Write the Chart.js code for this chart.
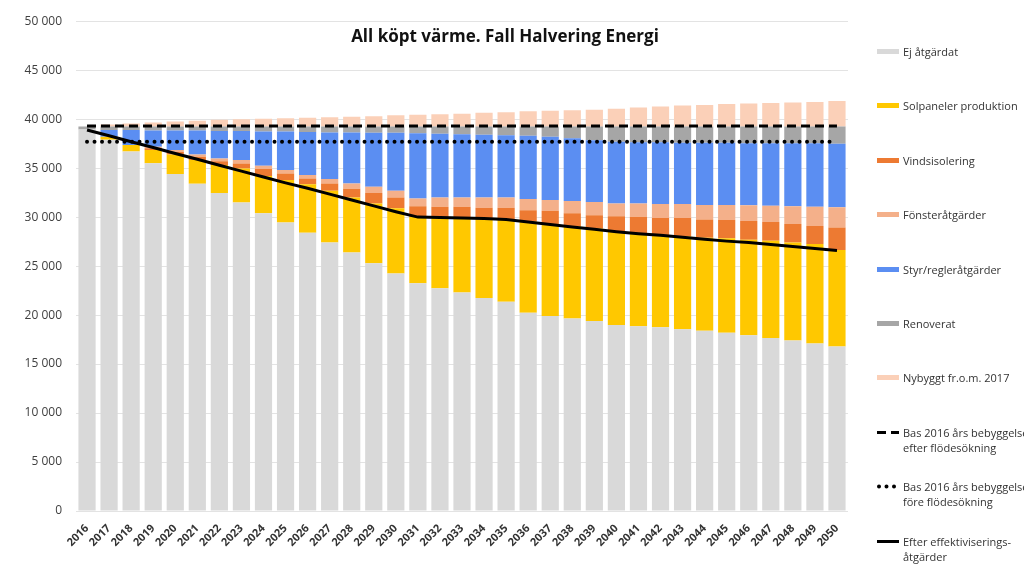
<!DOCTYPE html>
<html lang="sv">
<head>
<meta charset="utf-8">
<title>All köpt värme. Fall Halvering Energi</title>
<script src="https://cdn.jsdelivr.net/npm/chart.js@4.4.1/dist/chart.umd.min.js"></script>
<style>
  body { margin: 0; background: #fff; overflow: hidden; }
  #wrap { position: relative; width: 1024px; height: 569px; overflow: hidden; }
  #title {
    position: absolute; left: 305px; top: 24px; width: 400px; text-align: center;
    font: bold 17px "Open Sans", sans-serif; color: #111;
  }
  #legend { position: absolute; left: 876px; top: 0; width: 148px; height: 569px; overflow: hidden; }
  .item {
    position: absolute; left: 0; display: flex; align-items: flex-start;
    font: 11px/15px "Open Sans", sans-serif; color: #333; white-space: nowrap;
  }
  .item .mark { flex: 0 0 24px; height: 15px; margin-right: 3px; }
</style>
</head>
<body>
<div id="wrap">
  <canvas id="myChart" width="1024" height="569"></canvas>
  <div id="title">All köpt värme. Fall Halvering Energi</div>
  <div id="legend"></div>
</div>
<script>
let years = ["2016", "2017", "2018", "2019", "2020", "2021", "2022", "2023", "2024", "2025",
  "2026", "2027", "2028", "2029", "2030", "2031", "2032", "2033", "2034", "2035",
  "2036", "2037", "2038", "2039", "2040", "2041", "2042", "2043", "2044", "2045",
  "2046", "2047", "2048", "2049", "2050"];

let ejAtgardat = [38950, 37900, 36700, 35500, 34400, 33400, 32450, 31500, 30400, 29450,
  28400, 27400, 26400, 25300, 24250, 23250, 22750, 22300, 21750, 21350,
  20250, 19900, 19650, 19400, 19000, 18850, 18750, 18550, 18400, 18200,
  17950, 17650, 17400, 17100, 16800];
let solpaneler = [0, 300, 650, 1340, 2000, 2420, 2860, 3470, 3800, 4330,
  4950, 5300, 5600, 6100, 6650, 6750, 7250, 7600, 8150, 8450,
  9300, 9400, 9450, 9450, 9500, 9450, 9400, 9500, 9500, 9650,
  9750, 9950, 10000, 10150, 9850];
let vindsisolering = [0, 0, 0, 200, 250, 340, 400, 510, 700, 680,
  600, 740, 900, 1050, 1100, 1100, 1050, 1150, 1050, 1150,
  1150, 1350, 1300, 1350, 1600, 1750, 1750, 1850, 1850, 1850,
  1900, 1900, 1900, 1850, 2300];
let fonsteratgarder = [0, 0, 0, 140, 190, 240, 280, 340, 340, 340,
  340, 440, 540, 650, 700, 800, 950, 950, 1050, 1050,
  1150, 1100, 1250, 1350, 1300, 1350, 1450, 1450, 1500, 1550,
  1600, 1650, 1800, 1950, 2050];
let styrRegler = [0, 700, 1550, 1670, 2010, 2450, 2810, 2980, 3510, 3950,
  4410, 4770, 5210, 5500, 5900, 6650, 6500, 6450, 6400, 6350,
  6450, 6450, 6400, 6300, 6300, 6250, 6300, 6250, 6350, 6350,
  6350, 6400, 6450, 6500, 6500];
let renoverat = [300, 350, 350, 400, 400, 400, 450, 450, 500, 500,
  550, 600, 600, 650, 650, 700, 750, 800, 850, 900,
  950, 1050, 1200, 1400, 1550, 1600, 1600, 1650, 1650, 1650,
  1700, 1700, 1700, 1700, 1750];
let nybyggt = [0, 200, 300, 400, 500, 600, 700, 750, 800, 850,
  900, 950, 1000, 1050, 1150, 1200, 1250, 1300, 1400, 1450,
  1550, 1600, 1650, 1700, 1800, 1950, 2050, 2150, 2200, 2300,
  2350, 2400, 2450, 2500, 2600];

// Bas 2016 lines (constant levels) and the "efter" line
let basEfter = [39300, 39300, 39300, 39300, 39300, 39300, 39300, 39300, 39300, 39300,
  39300, 39300, 39300, 39300, 39300, 39300, 39300, 39300, 39300, 39300,
  39300, 39300, 39300, 39300, 39300, 39300, 39300, 39300, 39300, 39300,
  39300, 39300, 39300, 39300, 39300];
let basFore = [37700, 37700, 37700, 37700, 37700, 37700, 37700, 37700, 37700, 37700,
  37700, 37700, 37700, 37700, 37700, 37700, 37700, 37700, 37700, 37700,
  37700, 37700, 37700, 37700, 37700, 37700, 37700, 37700, 37700, 37700,
  37700, 37700, 37700, 37700, 37700];
let efterEffektivisering = [38900, 38300, 37700, 37100, 36500, 35900, 35300, 34700, 34100, 33500,
  32950, 32350, 31750, 31150, 30550, 30000, 29950, 29900, 29850, 29750,
  29500, 29250, 29000, 28750, 28500, 28300, 28150, 27950, 27750, 27550,
  27400, 27200, 27000, 26800, 26600];

function bar(label, data, color) {
  return {
    type: "bar", label: label, data: data, backgroundColor: color,
    stack: "bars", order: 2, barPercentage: 0.78, categoryPercentage: 1,
  };
}

function line(label, data, width, dash, cap, key) {
  return {
    type: "line", label: label, data: data, borderColor: "#000", borderWidth: width,
    borderDash: dash, borderCapStyle: cap, pointRadius: 0, fill: false, tension: 0,
    stack: key, order: 0,
  };
}

let datasets = [
  bar("Ej åtgärdat", ejAtgardat, "#d9d9d9"),
  bar("Solpaneler produktion", solpaneler, "#ffc800"),
  bar("Vindsisolering", vindsisolering, "#ed7a32"),
  bar("Fönsteråtgärder", fonsteratgarder, "#f4b08a"),
  bar("Styr/regleråtgärder", styrRegler, "#5b8ef2"),
  bar("Renoverat", renoverat, "#a6a6a6"),
  bar("Nybyggt fr.o.m. 2017", nybyggt, "#fbd0b8"),
  line("Bas 2016 års bebyggelse|efter flödesökning", basEfter, 3, [9, 5], "butt", "l1"),
  line("Bas 2016 års bebyggelse|före flödesökning", basFore, 4, [0, 7.5], "round", "l2"),
  line("Efter effektiviserings-|åtgärder", efterEffektivisering, 3, [], "butt", "l3"),
];

const ctx = document.getElementById("myChart").getContext("2d");
const myChart = new Chart(ctx, {
  data: { labels: years, datasets: datasets },
  options: {
    responsive: false,
    animation: false,
    devicePixelRatio: 1,
    layout: { padding: { left: 0, right: 176, top: 21, bottom: 0 } },
    plugins: { legend: { display: false }, title: { display: false }, tooltip: { enabled: false } },
    scales: {
      x: {
        stacked: true,
        grid: { display: false },
        border: { display: false },
        ticks: {
          autoSkip: false, minRotation: 45, maxRotation: 45, padding: 3,
          color: "#333", font: { family: "Open Sans", size: 11, weight: "bold" },
        },
        afterFit: (s) => { s.height = 58; },
      },
      y: {
        stacked: true,
        min: 0,
        max: 50000,
        border: { display: false },
        grid: { color: "#e3e3e3", drawTicks: false },
        ticks: {
          stepSize: 5000, padding: 14, color: "#404040",
          font: { family: "Open Sans", size: 12 },
          callback: (v) => String(v).replace(/\B(?=(\d{3})+(?!\d))/g, " "),
        },
        afterFit: (s) => { s.width = 76; },
      },
    },
  },
});

// legend on the right, built from the datasets
let legend = document.getElementById("legend");
for (let i = 0; i < datasets.length; i++) {
  let ds = datasets[i];
  let item = document.createElement("div");
  item.className = "item";
  item.style.top = (44 + i * 54.4) + "px";
  let mark = document.createElementNS("http://www.w3.org/2000/svg", "svg");
  mark.setAttribute("class", "mark");
  mark.setAttribute("width", "24");
  mark.setAttribute("height", "15");
  if (ds.type == "bar") {
    mark.innerHTML = `<rect x="1" y="5" width="22" height="5" fill="${ds.backgroundColor}"/>`;
  } else {
    let dash = ds.borderDash.length ? `stroke-dasharray="${ds.borderDash.join(",")}"` : "";
    mark.innerHTML = `<line x1="${ds.borderCapStyle == "round" ? 3 : 1}" y1="7.5" x2="23" y2="7.5" stroke="#000" stroke-width="${ds.borderWidth}" stroke-linecap="${ds.borderCapStyle}" ${dash}/>`;
  }
  let text = document.createElement("div");
  text.innerHTML = ds.label.split("|").join("<br>");
  item.appendChild(mark);
  item.appendChild(text);
  legend.appendChild(item);
}
</script>
</body>
</html>
